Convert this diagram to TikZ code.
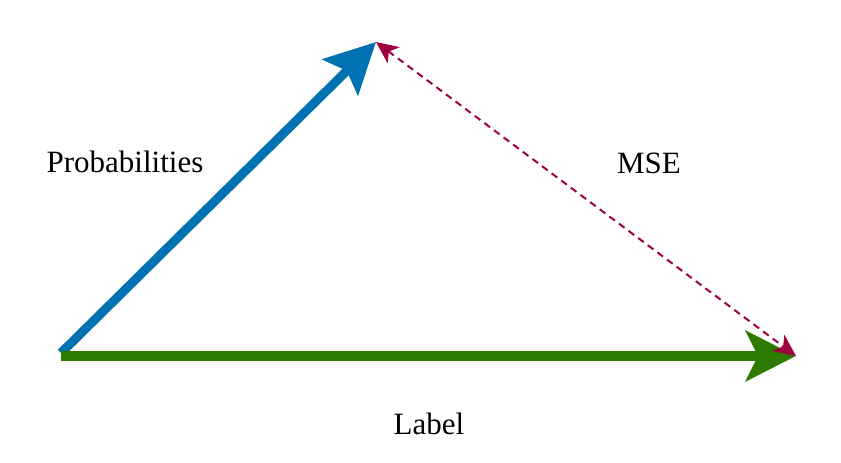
\documentclass[tikz,border=0pt]{standalone}
\usepackage{fontspec}
\setmainfont{Liberation Serif}
\usetikzlibrary{arrows.meta}
\definecolor{vblue}{RGB}{0,114,178}
\definecolor{vgreen}{RGB}{46,122,0}
\definecolor{vred}{RGB}{160,0,64}
\tikzset{
  lbl/.style={font=\fontsize{31}{31}\selectfont, anchor=base, inner sep=0pt},
  bluearrow/.style={draw=vblue, line width=9pt, -{Stealth[length=50pt, width=50pt, inset=9pt]}},
  greenarrow/.style={draw=vgreen, line width=10pt, -{Stealth[length=50pt, width=50pt, inset=12pt]}},
  redarrow/.style={draw=vred, line width=2pt, dash pattern=on 7pt off 5pt,
    {Stealth[length=22pt, width=20pt, inset=6pt]}-{Stealth[length=22pt, width=20pt, inset=6pt]}},
}
\begin{document}
\begin{tikzpicture}[x=1pt,y=-1pt]
\useasboundingbox (0,0) rectangle (841,463);
\coordinate (O) at (61,356);
\coordinate (Ob) at (61,353);
\coordinate (P) at (376,42);
\coordinate (L) at (796,356);
\draw[bluearrow] (Ob) -- (P);
\draw[greenarrow] (O) -- (L);
\draw[redarrow] (P) -- (L);
\node[lbl] (probs) at (125,172) {Probabilities};
\node[lbl] (mse) at (649,173) {MSE};
\node[lbl] (label) at (429,434) {Label};
\end{tikzpicture}
\end{document}
